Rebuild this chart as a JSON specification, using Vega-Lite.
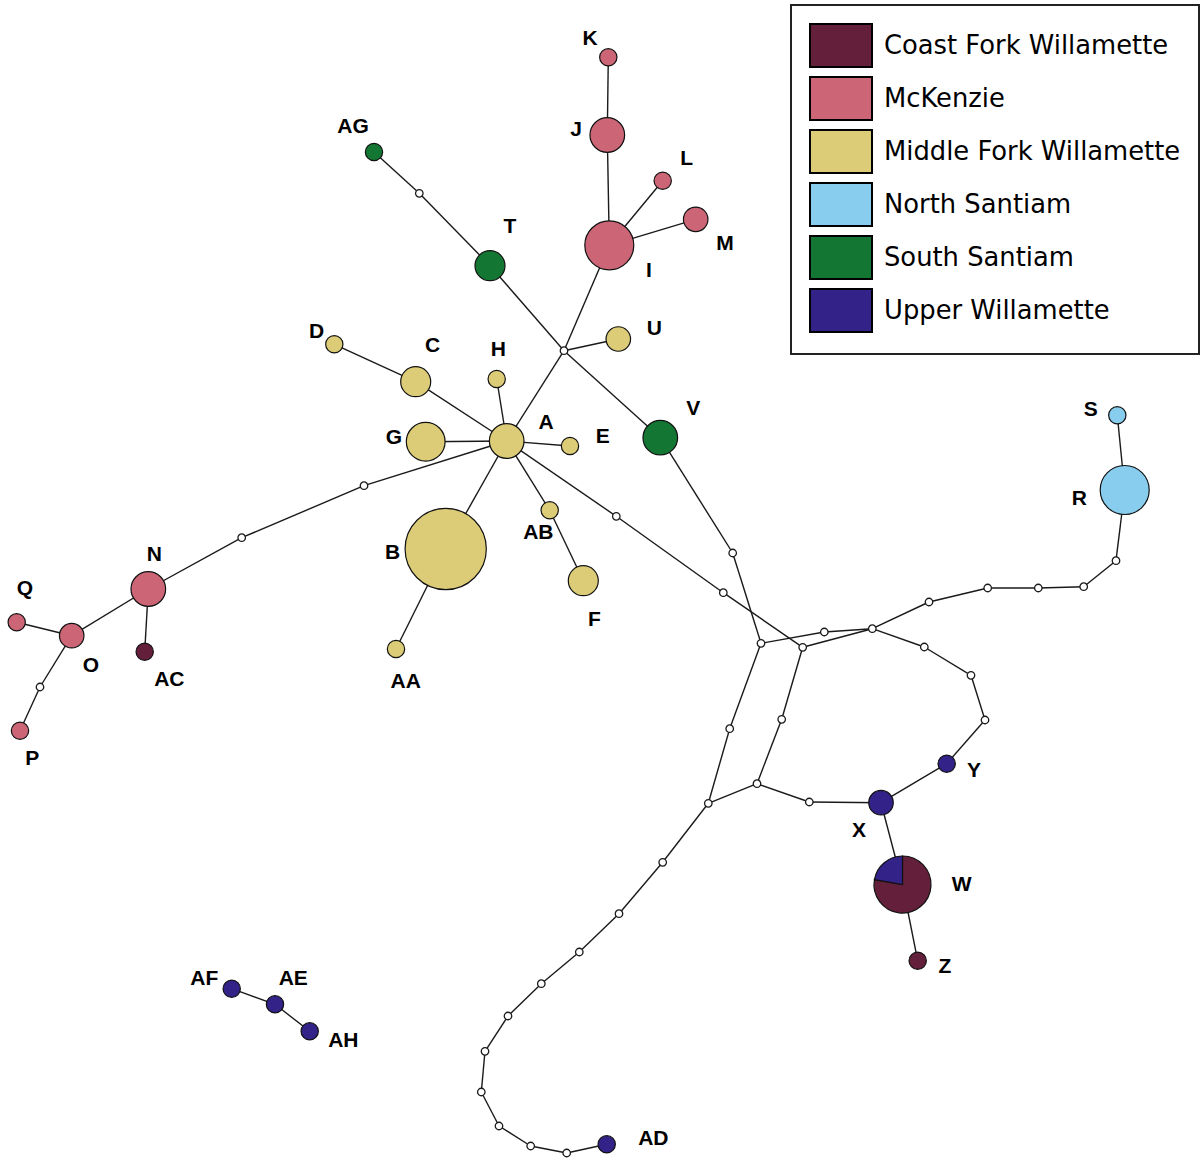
{
  "$schema": "https://vega.github.io/schema/vega-lite/v6.json",
  "description": "Haplotype network coloured by sub-basin",
  "width": 1202,
  "height": 1158,
  "padding": 0,
  "autosize": {"type": "none"},
  "background": "white",
  "config": {
    "view": {"stroke": null},
    "legend": {
      "title": null,
      "orient": "none",
      "legendX": 791,
      "legendY": 5,
      "symbolType": "M-1,-1H1.884V1H-1Z",
      "symbolSize": 1849,
      "symbolStrokeColor": "black",
      "symbolStrokeWidth": 2,
      "symbolOpacity": 1,
      "labelFont": "DejaVu Sans",
      "labelFontSize": 25.8,
      "labelColor": "black",
      "labelOffset": 30,
      "labelLimit": 600,
      "rowPadding": 2,
      "padding": 18,
      "strokeColor": "#222222",
      "strokeWidth": 2,
      "fillColor": "white"
    }
  },
  "datasets": {
    "nodes": [
      {"id": "K", "kind": "hap", "pop": "McKenzie", "n": 1, "x": 608.3, "y": 57.3, "lx": 590, "ly": 39},
      {"id": "J", "kind": "hap", "pop": "McKenzie", "n": 4, "x": 607.3, "y": 135, "lx": 576, "ly": 130},
      {"id": "L", "kind": "hap", "pop": "McKenzie", "n": 1, "x": 662.7, "y": 180.7, "lx": 686.7, "ly": 159},
      {"id": "M", "kind": "hap", "pop": "McKenzie", "n": 2, "x": 695.7, "y": 219.3, "lx": 725, "ly": 244},
      {"id": "I", "kind": "hap", "pop": "McKenzie", "n": 8, "x": 609.3, "y": 245.3, "lx": 649, "ly": 271},
      {"id": "AG", "kind": "hap", "pop": "South Santiam", "n": 1, "x": 374, "y": 152, "lx": 353, "ly": 127},
      {"id": "T", "kind": "hap", "pop": "South Santiam", "n": 3, "x": 490, "y": 265.7, "lx": 510, "ly": 227},
      {"id": "U", "kind": "hap", "pop": "Middle Fork Willamette", "n": 2, "x": 618.3, "y": 339, "lx": 654.3, "ly": 329.3},
      {"id": "D", "kind": "hap", "pop": "Middle Fork Willamette", "n": 1, "x": 334.3, "y": 344.3, "lx": 316.7, "ly": 331.7},
      {"id": "C", "kind": "hap", "pop": "Middle Fork Willamette", "n": 3, "x": 415.7, "y": 381.7, "lx": 432.7, "ly": 346},
      {"id": "H", "kind": "hap", "pop": "Middle Fork Willamette", "n": 1, "x": 496.7, "y": 379, "lx": 498.3, "ly": 350},
      {"id": "A", "kind": "hap", "pop": "Middle Fork Willamette", "n": 4, "x": 506.7, "y": 441, "lx": 546, "ly": 423.3},
      {"id": "G", "kind": "hap", "pop": "Middle Fork Willamette", "n": 5, "x": 425.7, "y": 441.7, "lx": 394, "ly": 437.7},
      {"id": "E", "kind": "hap", "pop": "Middle Fork Willamette", "n": 1, "x": 570, "y": 446, "lx": 602.7, "ly": 436.7},
      {"id": "V", "kind": "hap", "pop": "South Santiam", "n": 4, "x": 660.3, "y": 437.7, "lx": 693.3, "ly": 409},
      {"id": "AB", "kind": "hap", "pop": "Middle Fork Willamette", "n": 1, "x": 549.7, "y": 510.3, "lx": 538.3, "ly": 533.3},
      {"id": "B", "kind": "hap", "pop": "Middle Fork Willamette", "n": 22, "x": 445.7, "y": 549, "lx": 392.7, "ly": 552.7},
      {"id": "F", "kind": "hap", "pop": "Middle Fork Willamette", "n": 3, "x": 583.3, "y": 580.7, "lx": 594.3, "ly": 620},
      {"id": "AA", "kind": "hap", "pop": "Middle Fork Willamette", "n": 1, "x": 396, "y": 649, "lx": 405.7, "ly": 682.3},
      {"id": "N", "kind": "hap", "pop": "McKenzie", "n": 4, "x": 148.3, "y": 589, "lx": 154.3, "ly": 555},
      {"id": "Q", "kind": "hap", "pop": "McKenzie", "n": 1, "x": 16.7, "y": 622.3, "lx": 25, "ly": 589},
      {"id": "O", "kind": "hap", "pop": "McKenzie", "n": 2, "x": 71.7, "y": 635.7, "lx": 91, "ly": 665.7},
      {"id": "AC", "kind": "hap", "pop": "Coast Fork Willamette", "n": 1, "x": 144.7, "y": 651.7, "lx": 169.3, "ly": 680},
      {"id": "P", "kind": "hap", "pop": "McKenzie", "n": 1, "x": 20, "y": 730.7, "lx": 32.3, "ly": 759},
      {"id": "S", "kind": "hap", "pop": "North Santiam", "n": 1, "x": 1117.3, "y": 415.3, "lx": 1090.7, "ly": 410},
      {"id": "R", "kind": "hap", "pop": "North Santiam", "n": 8, "x": 1124.7, "y": 490, "lx": 1079.3, "ly": 499.3},
      {"id": "Y", "kind": "hap", "pop": "Upper Willamette", "n": 1, "x": 946.7, "y": 763.7, "lx": 974, "ly": 770.7},
      {"id": "X", "kind": "hap", "pop": "Upper Willamette", "n": 2, "x": 881, "y": 802.7, "lx": 859, "ly": 830.7},
      {"id": "W", "kind": "pie", "pop": "Coast Fork Willamette", "n": 9, "x": 902.5, "y": 884.5, "lx": 961.7, "ly": 885},
      {"id": "Z", "kind": "hap", "pop": "Coast Fork Willamette", "n": 1, "x": 917.7, "y": 960.7, "lx": 945, "ly": 967.3},
      {"id": "AD", "kind": "hap", "pop": "Upper Willamette", "n": 1, "x": 606.7, "y": 1144.3, "lx": 653.3, "ly": 1139.3},
      {"id": "AF", "kind": "hap", "pop": "Upper Willamette", "n": 1, "x": 231.7, "y": 988.7, "lx": 204.3, "ly": 979},
      {"id": "AE", "kind": "hap", "pop": "Upper Willamette", "n": 1, "x": 275, "y": 1004.3, "lx": 293.3, "ly": 979},
      {"id": "AH", "kind": "hap", "pop": "Upper Willamette", "n": 1, "x": 309.7, "y": 1031.3, "lx": 343.3, "ly": 1040.7},
      {"id": "m1", "kind": "med", "x": 564, "y": 350.7},
      {"id": "m2", "kind": "med", "x": 419.3, "y": 193.3},
      {"id": "m3", "kind": "med", "x": 364, "y": 485.7},
      {"id": "m4", "kind": "med", "x": 241.7, "y": 537.7},
      {"id": "m5", "kind": "med", "x": 40, "y": 687},
      {"id": "m6", "kind": "med", "x": 616.3, "y": 516.3},
      {"id": "m7", "kind": "med", "x": 723.3, "y": 592.7},
      {"id": "m8", "kind": "med", "x": 802.7, "y": 647.3},
      {"id": "m9", "kind": "med", "x": 732.7, "y": 553},
      {"id": "m10", "kind": "med", "x": 761, "y": 643.3},
      {"id": "m11", "kind": "med", "x": 824.3, "y": 632},
      {"id": "m12", "kind": "med", "x": 872.3, "y": 628.7},
      {"id": "m13", "kind": "med", "x": 929, "y": 602},
      {"id": "m14", "kind": "med", "x": 987.7, "y": 588},
      {"id": "m15", "kind": "med", "x": 1038.3, "y": 588},
      {"id": "m16", "kind": "med", "x": 1083.7, "y": 586.7},
      {"id": "m17", "kind": "med", "x": 1116, "y": 560.7},
      {"id": "m18", "kind": "med", "x": 924.3, "y": 647},
      {"id": "m19", "kind": "med", "x": 971, "y": 675.3},
      {"id": "m20", "kind": "med", "x": 985, "y": 720},
      {"id": "m21", "kind": "med", "x": 729.7, "y": 728.7},
      {"id": "m22", "kind": "med", "x": 708.3, "y": 803.3},
      {"id": "m23", "kind": "med", "x": 781.7, "y": 719.3},
      {"id": "m24", "kind": "med", "x": 757, "y": 783.7},
      {"id": "m25", "kind": "med", "x": 809.3, "y": 802},
      {"id": "m26", "kind": "med", "x": 662.7, "y": 862.3},
      {"id": "m27", "kind": "med", "x": 619, "y": 913.7},
      {"id": "m28", "kind": "med", "x": 579.3, "y": 952},
      {"id": "m29", "kind": "med", "x": 541.3, "y": 983.7},
      {"id": "m30", "kind": "med", "x": 508, "y": 1016},
      {"id": "m31", "kind": "med", "x": 485, "y": 1051.3},
      {"id": "m32", "kind": "med", "x": 481.3, "y": 1092},
      {"id": "m33", "kind": "med", "x": 499, "y": 1126},
      {"id": "m34", "kind": "med", "x": 530.7, "y": 1146},
      {"id": "m35", "kind": "med", "x": 566.7, "y": 1153}
    ],
    "edges": [
      {"s": "K", "t": "J"}, {"s": "J", "t": "I"}, {"s": "I", "t": "L"}, {"s": "I", "t": "M"},
      {"s": "I", "t": "m1"}, {"s": "AG", "t": "m2"}, {"s": "m2", "t": "T"}, {"s": "T", "t": "m1"},
      {"s": "m1", "t": "U"}, {"s": "m1", "t": "A"}, {"s": "m1", "t": "V"},
      {"s": "A", "t": "C"}, {"s": "C", "t": "D"}, {"s": "A", "t": "H"}, {"s": "A", "t": "G"},
      {"s": "A", "t": "E"}, {"s": "A", "t": "B"}, {"s": "B", "t": "AA"}, {"s": "A", "t": "AB"},
      {"s": "AB", "t": "F"}, {"s": "A", "t": "m3"}, {"s": "m3", "t": "m4"}, {"s": "m4", "t": "N"},
      {"s": "N", "t": "O"}, {"s": "N", "t": "AC"}, {"s": "O", "t": "Q"}, {"s": "O", "t": "m5"},
      {"s": "m5", "t": "P"}, {"s": "A", "t": "m6"}, {"s": "m6", "t": "m7"}, {"s": "m7", "t": "m8"},
      {"s": "V", "t": "m9"}, {"s": "m9", "t": "m10"}, {"s": "m10", "t": "m11"}, {"s": "m11", "t": "m12"},
      {"s": "m8", "t": "m12"}, {"s": "m12", "t": "m13"}, {"s": "m13", "t": "m14"}, {"s": "m14", "t": "m15"},
      {"s": "m15", "t": "m16"}, {"s": "m16", "t": "m17"}, {"s": "m17", "t": "R"}, {"s": "R", "t": "S"},
      {"s": "m12", "t": "m18"}, {"s": "m18", "t": "m19"}, {"s": "m19", "t": "m20"}, {"s": "m20", "t": "Y"},
      {"s": "Y", "t": "X"}, {"s": "m10", "t": "m21"}, {"s": "m21", "t": "m22"}, {"s": "m8", "t": "m23"},
      {"s": "m23", "t": "m24"}, {"s": "m24", "t": "m22"}, {"s": "m24", "t": "m25"}, {"s": "m25", "t": "X"},
      {"s": "X", "t": "W"}, {"s": "W", "t": "Z"}, {"s": "m22", "t": "m26"}, {"s": "m26", "t": "m27"},
      {"s": "m27", "t": "m28"}, {"s": "m28", "t": "m29"}, {"s": "m29", "t": "m30"}, {"s": "m30", "t": "m31"},
      {"s": "m31", "t": "m32"}, {"s": "m32", "t": "m33"}, {"s": "m33", "t": "m34"}, {"s": "m34", "t": "m35"},
      {"s": "m35", "t": "AD"}, {"s": "AF", "t": "AE"}, {"s": "AE", "t": "AH"}
    ],
    "pie": [
      {"id": "W", "pop": "Coast Fork Willamette", "count": 7},
      {"id": "W", "pop": "Upper Willamette", "count": 2}
    ]
  },
  "layer": [
    {
      "data": {"name": "edges"},
      "transform": [
        {"lookup": "s", "from": {"data": {"name": "nodes"}, "key": "id", "fields": ["x", "y"]}, "as": ["xs", "ys"]},
        {"lookup": "t", "from": {"data": {"name": "nodes"}, "key": "id", "fields": ["x", "y"]}, "as": ["xt", "yt"]}
      ],
      "mark": {"type": "rule", "color": "#1a1a1a", "strokeWidth": 1.4},
      "encoding": {
        "x": {"field": "xs", "type": "quantitative", "axis": null, "scale": {"domain": [0, 1202], "nice": false, "zero": false}},
        "y": {"field": "ys", "type": "quantitative", "axis": null, "scale": {"domain": [0, 1158], "nice": false, "zero": false, "reverse": true}},
        "x2": {"field": "xt"},
        "y2": {"field": "yt"}
      }
    },
    {
      "data": {"name": "nodes"},
      "transform": [{"filter": "datum.kind === 'med'"}],
      "mark": {"type": "point", "shape": "circle", "filled": true, "fill": "white", "stroke": "#1a1a1a", "strokeWidth": 1.3, "size": 56, "opacity": 1},
      "encoding": {
        "x": {"field": "x", "type": "quantitative"},
        "y": {"field": "y", "type": "quantitative"}
      }
    },
    {
      "data": {"name": "nodes"},
      "transform": [{"filter": "datum.kind === 'hap'"}],
      "mark": {"type": "point", "shape": "circle", "filled": true, "stroke": "#111111", "strokeWidth": 1.2, "opacity": 1},
      "encoding": {
        "x": {"field": "x", "type": "quantitative"},
        "y": {"field": "y", "type": "quantitative"},
        "size": {"field": "n", "type": "quantitative", "legend": null, "scale": {"type": "linear", "domain": [0, 1], "range": [0, 300], "zero": true}},
        "color": {
          "field": "pop",
          "type": "nominal",
          "scale": {
            "domain": ["Coast Fork Willamette", "McKenzie", "Middle Fork Willamette", "North Santiam", "South Santiam", "Upper Willamette"],
            "range": ["#64203a", "#cc6677", "#ddcc77", "#88ccee", "#137733", "#332288"]
          }
        }
      }
    },
    {
      "data": {"name": "pie"},
      "transform": [
        {"lookup": "id", "from": {"data": {"name": "nodes"}, "key": "id", "fields": ["x", "y"]}}
      ],
      "mark": {"type": "arc", "outerRadius": 28.5, "stroke": "#111111", "strokeWidth": 1.2},
      "encoding": {
        "x": {"field": "x", "type": "quantitative"},
        "y": {"field": "y", "type": "quantitative"},
        "theta": {"field": "count", "type": "quantitative", "stack": true},
        "order": {"field": "pop", "type": "ordinal", "sort": "ascending"},
        "color": {"field": "pop", "type": "nominal"}
      }
    },
    {
      "data": {"name": "nodes"},
      "transform": [{"filter": "datum.kind !== 'med'"}],
      "mark": {"type": "text", "font": "Liberation Sans", "fontWeight": "bold", "fontSize": 21, "align": "center", "baseline": "middle", "color": "black"},
      "encoding": {
        "x": {"field": "lx", "type": "quantitative"},
        "y": {"field": "ly", "type": "quantitative"},
        "text": {"field": "id", "type": "nominal"}
      }
    }
  ]
}
